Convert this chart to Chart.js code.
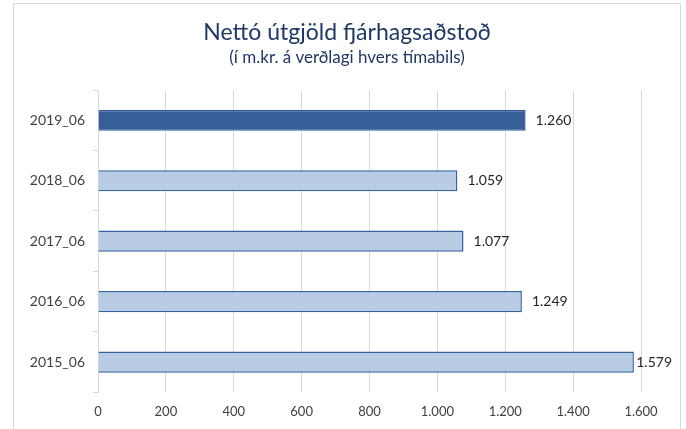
<!DOCTYPE html>
<html>
<head>
<meta charset="utf-8">
<script src="https://cdn.jsdelivr.net/npm/chart.js@4.4.1/dist/chart.umd.min.js"></script>
<style>
    body { margin: 0; background: #fff; }
    #frame {
        position: absolute; left: 13px; top: 3px;
        width: 666px; height: 440px;
        border: 1px solid #D9D9D9;
    }
    #frame canvas { display: block; }
</style>
</head>
<body>
<div id="frame"><canvas id="bars" width="666" height="438"></canvas></div>
<script>
var labels = ["2019_06", "2018_06", "2017_06", "2016_06", "2015_06"];
var values = [1260, 1059, 1077, 1249, 1579];
var xTicks = [0, 200, 400, 600, 800, 1000, 1200, 1400, 1600];

var fontName = "Lato, 'Noto Sans', sans-serif";

function fmt(v) {
    return String(v).replace(/\B(?=(\d{3})+(?!\d))/g, '.');
}

//value labels at the end of each bar ================================================================
var barLabels = {
    id: 'barLabels',
    afterDatasetsDraw: function (chart) {
        var ctx = chart.ctx;
        var meta = chart.getDatasetMeta(0);
        ctx.save();
        ctx.font = '14px ' + fontName;
        ctx.fillStyle = '#262626';
        ctx.textBaseline = 'middle';
        meta.data.forEach(function (bar, i) {
            var txt = fmt(values[i]);
            var w = ctx.measureText(txt).width;
            var x = bar.x + 10;
            if (x + w > chart.width - 8) x = chart.width - 8 - w;
            ctx.fillText(txt, x, bar.y);
        });
        ctx.restore();
    }
};
//====================================================================================================

var ctx = document.getElementById('bars').getContext('2d');
var chart = new Chart(ctx, {
    type: 'bar',
    data: {
        labels: labels,
        datasets: [{
            data: values,
            backgroundColor: labels.map(function (l, i) { return i === 0 ? '#365F99' : '#B8CCE4'; }),
            borderColor: labels.map(function (l, i) { return i === 0 ? '#365F99' : '#3464A0'; }),
            borderWidth: 1.5,
            barPercentage: 0.35,
            categoryPercentage: 1
        }]
    },
    options: {
        indexAxis: 'y',
        responsive: false,
        animation: false,
        layout: { padding: { left: 0, right: 0, top: 0, bottom: 10 } },
        plugins: {
            legend: { display: false },
            tooltip: { enabled: false },
            title: {
                display: true,
                text: 'Nettó útgjöld fjárhagsaðstoð',
                color: '#1F3864',
                font: { family: fontName, size: 23, weight: 'normal' },
                padding: { top: 15, bottom: 1 }
            },
            subtitle: {
                display: true,
                text: '(í m.kr. á verðlagi hvers tímabils)',
                color: '#1F3864',
                font: { family: fontName, size: 17, weight: 'normal' },
                padding: { top: 0, bottom: 22 }
            }
        },
        scales: {
            x: {
                min: 0,
                max: 1600,
                afterBuildTicks: function (scale) {
                    scale.ticks = xTicks.map(function (v) { return { value: v }; });
                },
                grid: { color: '#D9D9D9', lineWidth: 1, drawTicks: false },
                border: { display: false },
                ticks: {
                    padding: 12,
                    color: '#404040',
                    font: { family: fontName, size: 13 },
                    callback: function (v) { return fmt(v); }
                }
            },
            y: {
                afterFit: function (scale) { scale.width = 84; },
                grid: { drawOnChartArea: false, offset: true, color: '#D9D9D9', tickLength: 5 },
                border: { display: true, color: '#D9D9D9' },
                ticks: {
                    padding: 8,
                    color: '#404040',
                    font: { family: fontName, size: 14 }
                }
            },
            // empty right-hand axis, only keeps room for the value labels
            spacer: {
                axis: 'y',
                position: 'right',
                afterFit: function (scale) { scale.width = 39; },
                grid: { display: false },
                border: { display: false },
                ticks: { display: false }
            }
        }
    },
    plugins: [barLabels]
});
</script>
</body>
</html>
